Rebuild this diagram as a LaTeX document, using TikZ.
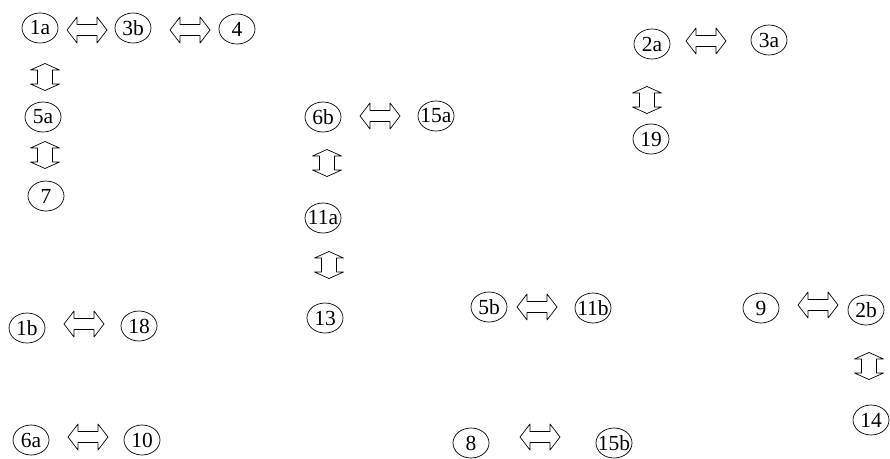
\documentclass[tikz,border=0pt]{standalone}
\usepackage{fontspec}
\setmainfont{Liberation Serif}
\usetikzlibrary{shapes.geometric}
\newcommand\circlbl[1]{\makebox[0pt]{#1}}
\begin{document}
\begin{tikzpicture}[x=1pt,y=-1pt,
  st/.style={ellipse, draw, line width=0.7pt, minimum width=36pt, minimum height=30pt, inner sep=0pt, font=\fontsize{21.5}{22}\selectfont},
  harrow/.pic={\draw[line width=0.7pt, line join=round] (-20,0) -- (-10,-13) -- (-10,-5.5) -- (10,-5.5) -- (10,-13) -- (20,0) -- (10,13) -- (10,5.5) -- (-10,5.5) -- (-10,13) -- cycle;},
  varrow/.pic={\draw[line width=0.7pt, line join=round] (0,-13.5) -- (14.5,-7) -- (7.5,-7) -- (7.5,7) -- (14.5,7) -- (0,13.5) -- (-14.5,7) -- (-7.5,7) -- (-7.5,-7) -- (-14.5,-7) -- cycle;}
]
\useasboundingbox (0,0) rectangle (890,458);
% group 1
\node[st] (n1a) at (40,28) {\circlbl{1a}};
\node[st] (n3b) at (133,28) {\circlbl{3b}};
\node[st] (n4) at (237,29) {\circlbl{4}};
\pic (a1) at (87,30) {harrow};
\pic (a2) at (190,30) {harrow};
\pic (a3) at (45,77) {varrow};
\node[st] (n5a) at (43,117) {\circlbl{5a}};
\pic (a4) at (45,155) {varrow};
\node[st] (n7) at (46,196) {\circlbl{7}};
% group 2
\node[st] (n2a) at (652,44) {\circlbl{2a}};
\pic (a5) at (706,41) {harrow};
\node[st] (n3a) at (769,40) {\circlbl{3a}};
\pic (a6) at (647,100) {varrow};
\node[st] (n19) at (651,139) {\circlbl{19}};
% group 3
\node[st] (n6b) at (323,117) {\circlbl{6b}};
\pic (a7) at (380,116) {harrow};
\node[st] (n15a) at (436,116) {\circlbl{15a}};
\pic (a8) at (327,163) {varrow};
\node[st] (n11a) at (323,218) {\circlbl{11a}};
\pic (a9) at (329,265) {varrow};
\node[st] (n13) at (325,318) {\circlbl{13}};
% group 4
\node[st] (n5b) at (489,307) {\circlbl{5b}};
\pic (a10) at (537,307) {harrow};
\node[st] (n11b) at (593,308) {\circlbl{11b}};
% group 5
\node[st] (n9) at (761,308) {\circlbl{9}};
\pic (a11) at (818,305) {harrow};
\node[st] (n2b) at (866,310) {\circlbl{2b}};
\pic (a12) at (869,366) {varrow};
\node[st] (n14) at (871,420) {\circlbl{14}};
% group 6
\node[st] (n1b) at (27,328) {\circlbl{1b}};
\pic (a13) at (84,324) {harrow};
\node[st] (n18) at (139,326) {\circlbl{18}};
\node[st] (n6a) at (31,440) {\circlbl{6a}};
\pic (a14) at (88,437) {harrow};
\node[st] (n10) at (142,440) {\circlbl{10}};
% group 7
\node[st] (n8) at (471,443) {\circlbl{8}};
\pic (a15) at (540,437) {harrow};
\node[st] (n15b) at (614,443) {\circlbl{15b}};
\end{tikzpicture}
\end{document}
